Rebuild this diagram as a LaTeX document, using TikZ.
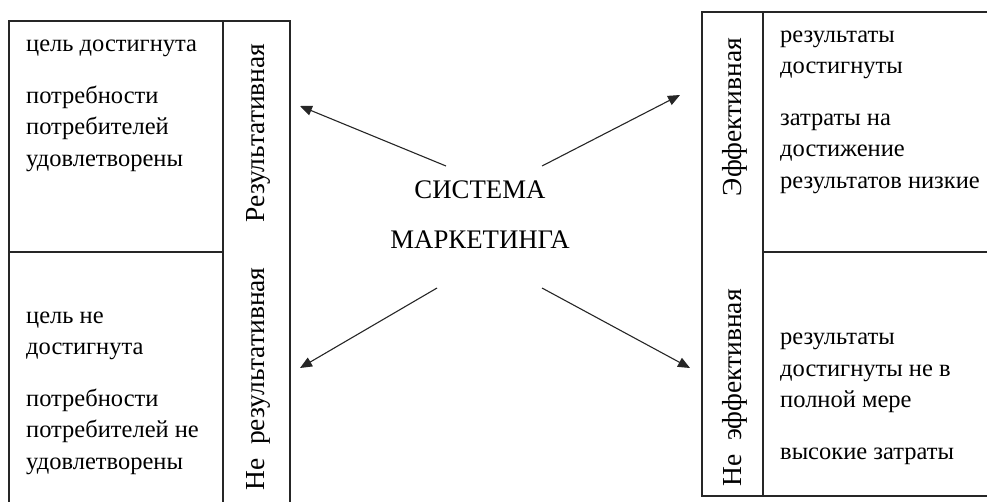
\documentclass[tikz,border=0pt]{standalone}
\usepackage{fontspec}
\setmainfont{Liberation Serif}
\usetikzlibrary{arrows.meta,positioning}
\definecolor{frameline}{HTML}{262626}

\begin{document}
\begin{tikzpicture}[
    x=1pt, y=-1pt,
    every node/.style={inner sep=0pt},
    celltext/.style={anchor=base west, align=left, font=\fontsize{24.5}{31.5}\selectfont},
    sidelabel/.style={rotate=90, font=\fontsize{27.5}{30}\selectfont},
    boxline/.style={line width=1.3pt, draw=frameline},
    outarrow/.style={line width=1.1pt, draw=frameline, -{Triangle[length=12pt,width=10pt]}},
]
\useasboundingbox (0,0) rectangle (987,501);
\clip (0,0) rectangle (987,501);

% Left block: result (base = last line)
\draw[boxline] (9,515) -- (9,21) -- (290,21) -- (290,515);
\draw[boxline] (223,21) -- (223,515);
\draw[boxline] (9,252) -- (223,252);

\node[celltext] (goalok) at (26,166) {цель достигнута\\[20pt]потребности\\потребителей\\удовлетворены};
\node[celltext] (goalno) at (26,469) {цель не\\достигнута\\[20pt]потребности\\потребителей не\\удовлетворены};
\node[sidelabel] (res) at (258,133) {Результативная};
\node[sidelabel] (nores) at (258,379) {Не\ \ результативная};

% Right block: efficiency
\draw[boxline] (1000,12) -- (702,12) -- (702,496) -- (1000,496);
\draw[boxline] (763,12) -- (763,496);
\draw[boxline] (763,252) -- (1000,252);

\node[celltext] (costlow) at (780,188) {результаты\\достигнуты\\[20pt]затраты на\\достижение\\результатов низкие};
\node[celltext] (costhigh) at (780,459) {результаты\\достигнуты не в\\полной мере\\[20pt]высокие затраты};
\node[sidelabel] (eff) at (735,117) {Эффективная};
\node[sidelabel] (noeff) at (735,388) {Не\ \ эффективная};

% Centre and arrows
\node[align=center, font=\fontsize{26.8}{50}\selectfont] (sys) at (480,215) {СИСТЕМА\\МАРКЕТИНГА};

\coordinate (toRes) at (300,106);
\coordinate (toNoRes) at (300,368);
\coordinate (toEff) at (680,95);
\coordinate (toNoEff) at (690,368);

\draw[outarrow] ([shift={(-34,-49)}]sys.center) -- (toRes);
\draw[outarrow] ([shift={(62,-49)}]sys.center) -- (toEff);
\draw[outarrow] ([shift={(-43,73)}]sys.center) -- (toNoRes);
\draw[outarrow] ([shift={(62,73)}]sys.center) -- (toNoEff);

\end{tikzpicture}
\end{document}
